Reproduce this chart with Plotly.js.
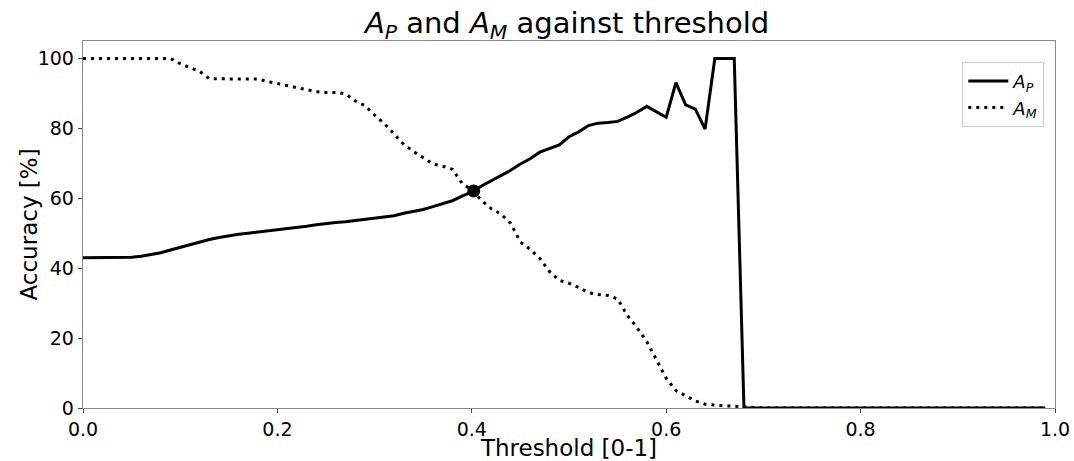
<!DOCTYPE html>
<html>
<head>
<meta charset="utf-8">
<script src="https://cdn.plot.ly/plotly-3.0.1.min.js"></script>
<style>html,body{margin:0;padding:0;background:#fff;}#chart{width:1074px;height:461px;}</style>
</head>
<body>
<div id="chart"></div>
<script>
// Threshold values 0.00 .. 0.99 in steps of 0.01
const thresholds = [
0.00,0.01,0.02,0.03,0.04,0.05,0.06,0.07,0.08,0.09,
0.10,0.11,0.12,0.13,0.14,0.15,0.16,0.17,0.18,0.19,
0.20,0.21,0.22,0.23,0.24,0.25,0.26,0.27,0.28,0.29,
0.30,0.31,0.32,0.33,0.34,0.35,0.36,0.37,0.38,0.39,
0.40,0.41,0.42,0.43,0.44,0.45,0.46,0.47,0.48,0.49,
0.50,0.51,0.52,0.53,0.54,0.55,0.56,0.57,0.58,0.59,
0.60,0.61,0.62,0.63,0.64,0.65,0.66,0.67,0.68,0.69,
0.70,0.71,0.72,0.73,0.74,0.75,0.76,0.77,0.78,0.79,
0.80,0.81,0.82,0.83,0.84,0.85,0.86,0.87,0.88,0.89,
0.90,0.91,0.92,0.93,0.94,0.95,0.96,0.97,0.98,0.99];

const accuracyP = [
43.0,43.0,43.0,43.0,43.0,43.1,43.4,43.8,44.4,45.2,
46.0,46.8,47.6,48.2,48.8,49.3,49.7,50.0,50.3,50.6,
51.0,51.3,51.6,52.0,52.4,52.8,53.1,53.3,53.6,54.0,
54.3,54.6,55.0,55.7,56.2,56.8,57.6,58.5,59.3,60.6,
61.8,63.5,65.0,66.5,68.0,69.8,71.3,73.2,74.2,75.3,
77.6,79.0,80.8,81.5,81.7,82.0,83.2,84.6,86.3,84.8,
83.2,93.1,86.7,85.5,79.8,100,100,100,0,0,
0,0,0,0,0,0,0,0,0,0,
0,0,0,0,0,0,0,0,0,0,
0,0,0,0,0,0,0,0,0,0];

const accuracyM = [
100,100,100,100,100,100,100,100,100,100,
98.5,97.5,96.3,94.2,94.2,94.2,94.2,94.2,94.1,93.4,
92.8,92.2,91.6,91.0,90.5,90.3,90.3,89.9,87.9,86.5,
83.8,81.4,78.4,75.4,73.4,71.7,69.8,69.2,68.3,64.3,
62.3,59.4,57.0,55.5,52.8,47.5,45.4,42.8,39.0,36.5,
35.7,34.5,33.0,32.5,32.2,31.2,26.5,23.0,19.0,13.8,
8.5,5.0,3.4,2.0,1.1,0.8,0.6,0.5,0.3,0,
0,0,0,0,0,0,0,0,0,0,
0,0,0,0,0,0,0,0,0,0,
0,0,0,0,0,0,0,0,0,0];

const crossX = [0.402];
const crossY = [62.1];

const FONT = 'DejaVu Sans, sans-serif';

const traces = [
  {x: thresholds, y: accuracyP, type: 'scatter', mode: 'lines', name: '<i>A<sub>P</sub></i>',
   line: {color: '#000', width: 3}},
  {x: thresholds, y: accuracyM, type: 'scatter', mode: 'lines', name: '<i>A<sub>M</sub></i>',
   line: {color: '#000', width: 3, dash: '3px,5px'}},
  {x: crossX, y: crossY, type: 'scatter', mode: 'markers', showlegend: false,
   marker: {color: '#000', size: 13}}
];

const layout = {
  width: 1074, height: 461,
  margin: {l: 83, r: 19, t: 41, b: 53},
  paper_bgcolor: '#fff', plot_bgcolor: '#fff',
  font: {family: FONT, color: '#000', size: 19},
  title: {text: '<i>A<sub>P</sub></i> and <i>A<sub>M</sub></i> against threshold',
          font: {size: 29, family: FONT}, x: 0.528, xanchor: 'center', y: 0.95, yanchor: 'middle'},
  xaxis: {range: [0, 1.0], tickvals: [0, 0.2, 0.4, 0.6, 0.8, 1.0], ticktext: ['0.0','0.2','0.4','0.6','0.8','1.0'],
          showgrid: false, zeroline: false, showline: true, linecolor: '#888', linewidth: 1.3, mirror: true,
          ticks: 'outside', ticklen: 4, tickcolor: '#444', tickfont: {size: 19},
          title: {text: 'Threshold [0-1]', font: {size: 23}, standoff: 1}},
  yaxis: {range: [0, 105], tickvals: [0, 20, 40, 60, 80, 100],
          showgrid: false, zeroline: false, showline: true, linecolor: '#888', linewidth: 1.3, mirror: true,
          ticks: 'outside', ticklen: 4, tickcolor: '#444', tickfont: {size: 19}},
  annotations: [{text: 'Accuracy [%]', xref: 'paper', yref: 'paper', x: 0, y: 0.5,
                 xshift: -55, textangle: -90, showarrow: false, font: {size: 23},
                 xanchor: 'center', yanchor: 'middle'}],
  legend: {x: 0.989, y: 0.943, xanchor: 'right', yanchor: 'top', bgcolor: '#fff',
           bordercolor: '#ccc', borderwidth: 1, font: {size: 18}, tracegroupgap: 0, itemwidth: 40},
  showlegend: true
};

Plotly.newPlot('chart', traces, layout, {staticPlot: true, displayModeBar: false});
</script>
</body>
</html>
